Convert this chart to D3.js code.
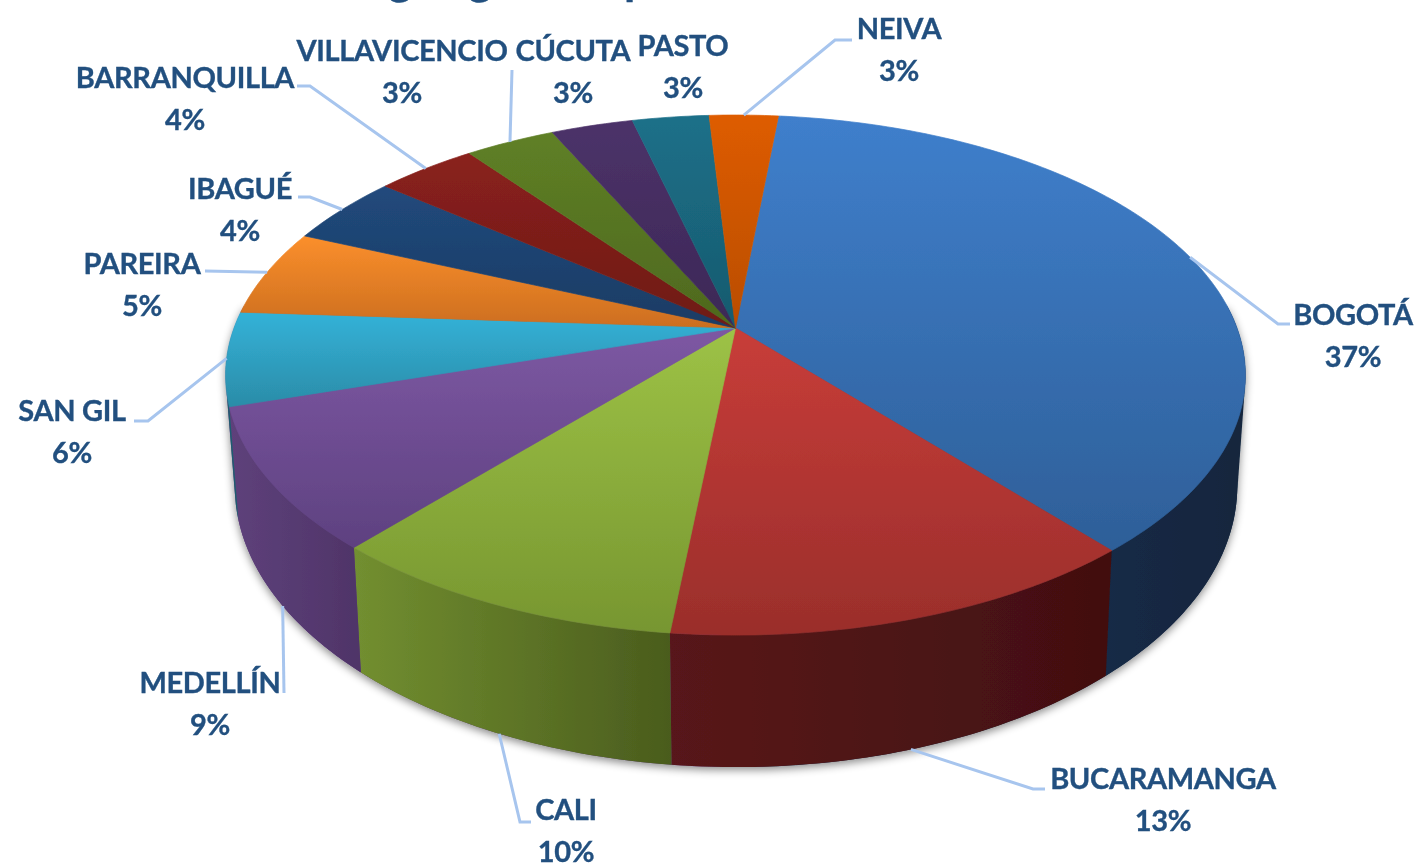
<!DOCTYPE html>
<html>
<head>
<meta charset="utf-8">
<script src="https://cdn.jsdelivr.net/npm/d3@7"></script>
<style>
  html, body { margin: 0; padding: 0; background: #fff; overflow: hidden; }
  text { font-family: Lato, "Open Sans", sans-serif; font-weight: 700; fill: #21507f; stroke: #21507f; stroke-width: 0.35; letter-spacing: -0.35px; }
</style>
</head>
<body>
<div id="chart"></div>
<script>
// values
var cities = ["BOGOTÁ", "BUCARAMANGA", "CALI", "MEDELLÍN", "SAN GIL", "PAREIRA", "IBAGUÉ", "BARRANQUILLA", "VILLAVICENCIO", "CÚCUTA", "PASTO", "NEIVA"];
var shares = [37.2, 12.9, 9.7, 8.8, 5.8, 5.4, 4.4, 3.8, 3.4, 3.1, 2.9, 2.6];

// colours
var topLight = ["#3f7fcc", "#c83d39", "#9dc246", "#7d58a3", "#33b2d8", "#fb8f2c", "#21497c", "#8a211c", "#5f8026", "#4c3269", "#1c7089", "#de5c00"];
var topDark = ["#2e5f98", "#9a2e2b", "#779630", "#5e4180", "#2b8ca8", "#cc6e1f", "#1a3c64", "#6e1a16", "#4e681e", "#3c2856", "#175a6e", "#b94d00"];
var wallLeft = ["#152a46", "#58191a", "#728f30", "#5e417b", "#1f5d70", "#a65a16", "#142c4a", "#521310", "#3a4e14", "#2d1e40", "#104251", "#8a3a00"];
var wallRight = ["#13253d", "#420f10", "#4a5c1d", "#4f3468", "#1f5d70", "#a65a16", "#142c4a", "#521310", "#3a4e14", "#2d1e40", "#104251", "#8a3a00"];

var width = 1414, height = 864;

// label placement: centre x, first baseline, the leader's elbow points,
// and how far along the slice's edge the leader starts (default half way)
var labelSpots = [
    { x: 1353, y: 325, leader: [[1278, 324], [1290, 324]] },
    { x: 1163, y: 789, leader: [[1033, 789], [1045, 789]], low: true },
    { x: 566, y: 820, leader: [[520, 822], [531, 822]], low: true },
    { x: 210, y: 693, leader: [[284, 693]], low: true, along: 0.46 },
    { x: 72, y: 421, leader: [[148, 421], [134, 421]] },
    { x: 142, y: 274, leader: [[205, 271]] },
    { x: 240, y: 199, leader: [[310, 197], [298, 197]] },
    { x: 185, y: 88, leader: [[310, 86], [297, 86]] },
    { x: 402, y: 61, leader: [[512, 70]] },
    { x: 573, y: 61, leader: null },
    { x: 683, y: 56, leader: null },
    { x: 899, y: 39, leader: [[835, 40], [852, 40]] }
];

var svg = d3.select("#chart")
    .append("svg")
    .attr("width", width)
    .attr("height", height);

var defs = svg.append("defs");

// the source picture is a soft upscale
defs.append("filter").attr("id", "soft")
    .attr("x", 0).attr("y", 0).attr("width", 1).attr("height", 1)
    .append("feGaussianBlur").attr("stdDeviation", 0.6);

defs.append("filter").attr("id", "shadow")
    .attr("x", "-5%").attr("y", "-5%").attr("width", "110%").attr("height", "110%")
    .append("feDropShadow")
    .attr("dx", 0).attr("dy", 3).attr("stdDeviation", 4)
    .attr("flood-color", "#000").attr("flood-opacity", 0.45);

cities.forEach(function (c, i) {
    var t = defs.append("linearGradient").attr("id", "top" + i)
        .attr("x1", 0).attr("y1", 0).attr("x2", 0).attr("y2", 1);
    t.append("stop").attr("offset", 0).attr("stop-color", topLight[i]);
    t.append("stop").attr("offset", 1).attr("stop-color", topDark[i]);
    var w = defs.append("linearGradient").attr("id", "wall" + i)
        .attr("x1", 0).attr("y1", 0).attr("x2", 1).attr("y2", 0);
    w.append("stop").attr("offset", 0).attr("stop-color", wallLeft[i]);
    w.append("stop").attr("offset", 1).attr("stop-color", wallRight[i]);
});

// backing shape behind the walls: dark blue on the right, purple on the left
var back = defs.append("linearGradient").attr("id", "back")
    .attr("x1", 0).attr("y1", 0).attr("x2", 1).attr("y2", 0);
back.append("stop").attr("offset", 0.5).attr("stop-color", wallLeft[3]);
back.append("stop").attr("offset", 0.5).attr("stop-color", wallRight[0]);

var rad = function (deg) { return deg * Math.PI / 180; };

// first slice starts a little past twelve o'clock
var rotation = rad(5.8);
var pie = d3.pie().sort(null).value(function (d) { return d; })
    .startAngle(rotation).endAngle(rotation + 2 * Math.PI);
var slices = pie(shares);

// perspective of the disc: top face and bottom face get their own scales
var tilt = 0.181;
var topX = d3.scaleLinear().domain([0, 1]).range([735.5, 1237]);
var topY = d3.scaleLinear().domain([0, 1]).range([328, 579.5]);
var lowX = d3.scaleLinear().domain([0, 1]).range([736, 1229]);
var lowY = d3.scaleLinear().domain([0, 1]).range([435, 707]);

function project(angle, sx, sy) {
    var X = Math.sin(angle), Y = -Math.cos(angle);
    var w = 1 - tilt * Y;
    return [sx(X / w), sy(Y / w)];
}
function topPoint(a) { return project(a, topX, topY); }
function lowPoint(a) { return project(a, lowX, lowY); }

function samples(a0, a1) {
    var n = Math.max(2, Math.ceil((a1 - a0) / rad(1)));
    return d3.range(n + 1).map(function (k) { return a0 + (a1 - a0) * k / n; });
}

var line = d3.line();
var root = svg.append("g").attr("filter", "url(#soft)");

// title sits above the crop, only the descenders are left
root.append("g").selectAll("text")
    .data([["g", 400], ["g", 480], ["p", 637]])
    .enter().append("text")
    .attr("x", function (d) { return d[1]; })
    .attr("y", -6)
    .attr("text-anchor", "middle")
    .attr("font-size", 46)
    .text(function (d) { return d[0]; });

// hull of both faces gives the straight silhouette between them
var sweep = samples(rad(85), rad(275));
var walls = root.append("g").attr("filter", "url(#shadow)");
walls.append("path")
    .attr("fill", "url(#back)")
    .attr("d", line(d3.polygonHull(sweep.map(topPoint).concat(sweep.map(lowPoint)))) + "Z");

// side walls, only the part facing the viewer
var wallFrom = rad(85), wallTo = rad(256);
walls.selectAll(".wall")
    .data(slices.filter(function (d) { return d.endAngle > wallFrom && d.startAngle < wallTo; }))
    .enter().append("path")
    .attr("class", "wall")
    .attr("fill", function (d) { return "url(#wall" + d.index + ")"; })
    .attr("d", function (d) {
        var a = samples(Math.max(d.startAngle, wallFrom), Math.min(d.endAngle, wallTo));
        return line(a.map(topPoint).concat(a.slice().reverse().map(lowPoint))) + "Z";
    });

// top face, stroked in its own fill so no seams show between slices
root.append("g").selectAll("path")
    .data(slices)
    .enter().append("path")
    .attr("fill", function (d) { return "url(#top" + d.index + ")"; })
    .attr("stroke", function (d) { return "url(#top" + d.index + ")"; })
    .attr("stroke-width", 0.7)
    .attr("d", function (d) {
        var a = samples(d.startAngle, d.endAngle);
        return line([[topX(0), topY(0)]].concat(a.map(topPoint))) + "Z";
    });

// leader lines start on the slice's edge
root.append("g").selectAll("path")
    .data(slices.filter(function (d) { return labelSpots[d.index].leader; }))
    .enter().append("path")
    .attr("fill", "none")
    .attr("stroke", "#a7c5ee")
    .attr("stroke-width", 3)
    .attr("d", function (d) {
        var spot = labelSpots[d.index];
        var along = spot.along === undefined ? 0.5 : spot.along;
        var at = d.startAngle + (d.endAngle - d.startAngle) * along;
        var start = spot.low ? lowPoint(at) : topPoint(at);
        return line([start].concat(spot.leader));
    });

// labels
var labels = root.append("g").selectAll("g")
    .data(slices)
    .enter().append("g")
    .attr("text-anchor", "middle")
    .attr("font-size", 29);

labels.append("text")
    .attr("x", function (d) { return labelSpots[d.index].x; })
    .attr("y", function (d) { return labelSpots[d.index].y; })
    .text(function (d) { return cities[d.index]; });

labels.append("text")
    .attr("x", function (d) { return labelSpots[d.index].x; })
    .attr("y", function (d) { return labelSpots[d.index].y + 42; })
    .text(function (d) { return Math.round(d.value) + "%"; });
</script>
</body>
</html>
